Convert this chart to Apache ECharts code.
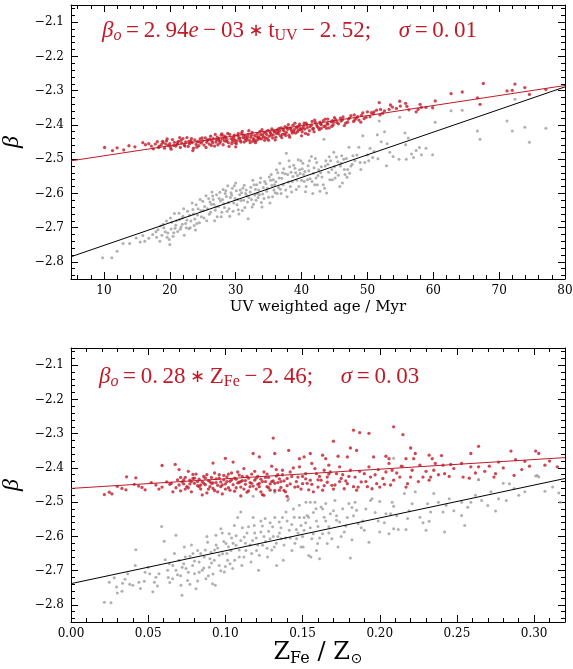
<!DOCTYPE html>
<html>
<head>
<meta charset="utf-8">
<script src="https://cdn.jsdelivr.net/npm/echarts@6/dist/echarts.min.js"></script>
<style>html,body{margin:0;padding:0;background:#fff;}#c{width:573px;height:669px;}</style>
</head>
<body>
<div id="c"></div>
<script>
// ---------------- DATA ----------------
// Top panel: beta vs UV weighted age (Myr)
const topRed = [
[10.1,-2.466],[11.3,-2.475],[12.0,-2.467],[13.0,-2.473],[13.8,-2.461],[14.7,-2.464],[15.9,-2.452],[16.3,-2.458],[16.8,-2.455],[17.2,-2.462],[17.5,-2.470],
[17.8,-2.456],[18.1,-2.449],[18.4,-2.463],[18.7,-2.458],[19.0,-2.452],[19.2,-2.468],[19.5,-2.447],[19.8,-2.460],[20.0,-2.455],[20.2,-2.471],[20.4,-2.443],[20.7,-2.451],[20.9,-2.462],[21.1,-2.457],[21.3,-2.448],[21.6,-2.466],[21.8,-2.453],[22.0,-2.440],[22.2,-2.459],[22.4,-2.450],[22.6,-2.437],[22.8,-2.463],[23.0,-2.455],[23.2,-2.446],[23.4,-2.452],[23.6,-2.468],[23.8,-2.444],[24.0,-2.457],[24.2,-2.449],[24.4,-2.461],[24.6,-2.441],[24.8,-2.453],[25.0,-2.447],
[25.2,-2.459],[25.4,-2.438],[25.6,-2.451],[25.8,-2.444],[26.0,-2.456],[26.2,-2.433],[26.4,-2.447],[26.6,-2.440],[26.8,-2.462],[27.0,-2.450],[27.2,-2.436],[27.4,-2.445],[27.6,-2.453],[27.8,-2.430],[28.0,-2.441],[28.1,-2.458],[28.3,-2.447],[28.5,-2.435],[28.7,-2.443],[28.9,-2.452],[29.1,-2.428],[29.3,-2.440],[29.5,-2.448],[29.7,-2.436],[29.9,-2.444],[30.1,-2.455],[30.3,-2.431],[30.5,-2.439],[30.7,-2.446],[30.9,-2.425],[31.1,-2.437],[31.3,-2.450],[31.5,-2.433],[31.7,-2.441],[31.9,-2.428],[32.1,-2.445],[32.3,-2.436],[32.5,-2.422],[32.7,-2.440],[32.9,-2.431],[33.1,-2.447],[33.3,-2.426],[33.5,-2.435],[33.7,-2.419],[33.9,-2.441],[34.1,-2.430],[34.3,-2.423],[34.5,-2.437],[34.7,-2.428],[34.9,-2.416],
[35.1,-2.433],[35.3,-2.424],[35.5,-2.412],[35.7,-2.429],[35.9,-2.420],[36.1,-2.436],[36.3,-2.415],[36.5,-2.426],[36.7,-2.418],[36.9,-2.409],[37.1,-2.428],[37.3,-2.417],[37.5,-2.405],[37.7,-2.422],[37.9,-2.413],[38.1,-2.430],[38.3,-2.409],[38.5,-2.418],[38.7,-2.401],[38.9,-2.414],[39.1,-2.424],[39.3,-2.406],[39.5,-2.415],[39.7,-2.398],[39.9,-2.411],[40.1,-2.420],[40.3,-2.403],[40.5,-2.412],[40.7,-2.395],[40.9,-2.408],[41.2,-2.417],[41.5,-2.401],[41.8,-2.410],[42.1,-2.393],[42.4,-2.405],[42.7,-2.414],[43.0,-2.399],[43.3,-2.388],[43.6,-2.403],[43.9,-2.396],[44.2,-2.409],[44.5,-2.391],[44.8,-2.400],
[45.2,-2.385],[45.6,-2.397],[46.0,-2.389],[46.3,-2.377],[46.7,-2.395],[47.1,-2.383],[47.5,-2.373],[47.9,-2.390],[48.3,-2.380],[48.7,-2.386],[49.3,-2.365],[49.8,-2.378],[50.4,-2.376],[50.9,-2.368],[51.4,-2.357],[51.8,-2.335],[51.9,-2.371],[52.6,-2.359],[53.3,-2.355],[53.8,-2.348],[54.4,-2.352],[54.9,-2.331],[55.0,-2.345],[55.8,-2.337],[56.3,-2.356],[57.4,-2.362],[57.7,-2.355],[58.2,-2.349],[58.9,-2.349],[59.9,-2.350],[60.3,-2.330],
[62.7,-2.309],[64.4,-2.304],[66.7,-2.321],[67.1,-2.340],[67.6,-2.279],[71.2,-2.301],[72.0,-2.299],[72.4,-2.281],[73.9,-2.291],[74.6,-2.311],[77.1,-2.297],
[26.1,-2.442],[27.3,-2.458],[28.2,-2.432],[29.4,-2.455],[30.6,-2.438],[31.6,-2.446],[32.4,-2.430],[33.6,-2.439],[34.6,-2.421],[35.6,-2.438],[36.6,-2.410],[37.6,-2.431],[38.6,-2.424],[39.6,-2.404],[40.6,-2.425],[41.6,-2.390],[42.6,-2.409],[43.6,-2.383],[44.6,-2.404],[29.0,-2.463],[31.0,-2.419],[33.0,-2.452],[36.0,-2.444],[38.0,-2.399],[40.0,-2.432],[42.0,-2.386],[21.5,-2.437],[23.5,-2.475],[19.6,-2.441],[25.5,-2.466],[27.9,-2.426],[34.0,-2.414],[37.0,-2.437],[39.0,-2.395],[41.0,-2.428],[43.0,-2.410],[45.0,-2.379],[46.5,-2.402],[48.0,-2.371],[49.0,-2.392],[50.0,-2.362],[44.0,-2.383],[32.0,-2.417],[30.0,-2.464],
[18.3,-2.466],[19.4,-2.456],[20.6,-2.460],[21.7,-2.445],[22.9,-2.448],[24.1,-2.465],[24.9,-2.438],[26.5,-2.452],[27.5,-2.440],[28.6,-2.448],[29.8,-2.430],[30.8,-2.450],[31.8,-2.436],[32.8,-2.444],[33.8,-2.428],[34.8,-2.440],[35.8,-2.418],[36.8,-2.432],[37.8,-2.408],[38.8,-2.420],[39.8,-2.414],[40.8,-2.400],[41.9,-2.420],[42.9,-2.397],[43.8,-2.410],[44.9,-2.392],[45.9,-2.380],[47.0,-2.392],[48.5,-2.376],[49.5,-2.382],[50.6,-2.364],[52.0,-2.355],[53.5,-2.342],[56.0,-2.346],[58.0,-2.340],[26.9,-2.428],[29.9,-2.452],[32.2,-2.452],[35.0,-2.445],[38.2,-2.436],
[18.9,-2.448],[20.1,-2.465],[21.2,-2.452],[22.3,-2.462],[23.3,-2.440],[24.5,-2.450],[25.7,-2.445],[26.3,-2.460],[27.1,-2.443],[27.7,-2.448],[28.4,-2.438],[28.8,-2.425],[29.6,-2.442],[30.2,-2.447],[30.4,-2.425],[31.2,-2.430],[31.4,-2.440],[32.6,-2.448],[33.2,-2.435],[33.4,-2.442],[34.2,-2.436],[34.4,-2.445],[35.2,-2.420],[35.4,-2.430],[36.2,-2.425],[36.4,-2.420],[37.2,-2.412],[37.4,-2.426],[38.4,-2.412],[39.2,-2.408],[39.4,-2.420],[40.2,-2.410],[40.4,-2.395],[41.3,-2.405],[41.7,-2.412],[42.3,-2.400],[42.8,-2.392],[43.4,-2.405],[44.0,-2.398],[44.7,-2.388],[45.4,-2.393],[46.2,-2.385],[47.3,-2.380],[48.1,-2.385],[49.1,-2.372],[51.0,-2.362],[52.3,-2.366]
];
const topGray = [
[9.8,-2.788],[11.2,-2.788],[12.0,-2.769],[12.9,-2.746],[13.9,-2.746],[14.9,-2.730],[15.5,-2.742],[15.9,-2.723],[16.2,-2.740],[16.8,-2.731],[17.4,-2.720],[17.9,-2.712],[18.2,-2.706],[18.5,-2.740],[18.8,-2.722],[19.1,-2.700],[19.5,-2.681],[19.7,-2.716],[20.0,-2.749],[20.2,-2.704],[20.5,-2.725],[20.7,-2.659],[20.9,-2.693],[21.2,-2.711],[21.5,-2.676],[21.7,-2.698],[22.0,-2.667],[22.2,-2.722],[22.4,-2.688],[22.7,-2.652],[22.9,-2.703],[23.2,-2.681],[23.5,-2.647],[23.7,-2.694],[24.0,-2.633],[24.2,-2.663],[24.5,-2.686],[24.7,-2.651],[25.0,-2.623],[25.2,-2.672],[25.5,-2.607],[25.7,-2.645],[26.0,-2.661],[26.3,-2.632],[26.6,-2.618],[26.9,-2.649],[27.1,-2.604],[27.4,-2.638],[27.7,-2.622],[28.1,-2.589],[28.3,-2.641],[28.6,-2.609],[28.9,-2.627],[29.1,-2.667],[29.3,-2.598],[29.6,-2.652],[29.9,-2.615],[30.2,-2.633],[30.6,-2.604],[30.8,-2.621],[31.1,-2.584],[31.4,-2.641],[31.7,-2.607],[31.9,-2.674],[32.2,-2.596],[32.4,-2.618],[32.7,-2.632],[33.0,-2.588],[33.2,-2.575],[33.4,-2.612],[33.6,-2.604],[33.9,-2.627],[34.2,-2.583],[34.4,-2.565],[34.7,-2.594],[35.0,-2.611],[35.2,-2.628],[35.5,-2.577],[35.7,-2.560],[36.0,-2.598],[36.2,-2.531],[36.5,-2.583],[36.7,-2.512],[37.0,-2.556],[37.2,-2.575],[37.5,-2.543],[37.7,-2.483],[38.0,-2.567],[38.2,-2.522],[38.5,-2.596],[38.7,-2.551],[39.0,-2.527],[39.2,-2.589],[39.5,-2.502],[39.7,-2.531],[40.0,-2.562],[40.3,-2.545],[40.5,-2.536],[40.7,-2.580],[41.0,-2.519],[41.3,-2.557],[41.5,-2.492],[41.8,-2.541],[42.0,-2.575],[42.3,-2.510],[42.6,-2.531],[42.8,-2.594],[43.1,-2.552],[43.4,-2.442],[43.6,-2.520],[43.8,-2.599],[44.1,-2.538],[44.4,-2.505],[44.7,-2.560],[45.0,-2.522],[45.3,-2.494],[45.6,-2.547],[46.0,-2.512],[46.2,-2.570],[46.5,-2.530],[46.8,-2.498],[47.2,-2.465],[47.3,-2.541],[47.7,-2.515],[48.1,-2.505],[48.7,-2.465],[49.3,-2.432],[49.6,-2.510],[50.0,-2.488],[50.4,-2.468],[50.8,-2.495],[51.5,-2.429],[51.6,-2.499],[51.8,-2.389],[52.1,-2.449],[52.6,-2.420],[52.9,-2.519],[53.4,-2.480],[53.9,-2.492],[54.8,-2.500],[54.9,-2.378],[55.7,-2.424],[55.8,-2.458],[55.9,-2.500],[56.7,-2.485],[57.4,-2.475],[57.9,-2.466],[58.2,-2.487],[58.9,-2.468],[59.9,-2.487],[60.3,-2.392],
[62.7,-2.359],[64.4,-2.357],[66.7,-2.418],[67.1,-2.442],[71.2,-2.389],[72.0,-2.418],[72.4,-2.325],[73.9,-2.407],[74.6,-2.451],[77.1,-2.410],
[26.4,-2.596],[27.9,-2.655],[29.5,-2.585],[30.4,-2.648],[31.2,-2.620],[32.9,-2.605],[34.0,-2.640],[35.8,-2.590],[36.9,-2.600],[38.4,-2.538],[39.9,-2.505],[40.9,-2.560],[42.2,-2.555],[43.3,-2.575],[44.0,-2.515],[45.8,-2.580],[23.9,-2.707],[21.9,-2.690],[19.9,-2.735],[28.8,-2.578],[33.8,-2.555],[37.8,-2.610],[41.7,-2.600],[44.9,-2.480],[46.9,-2.553],[39.4,-2.548],[35.4,-2.545],[31.6,-2.590],[30.0,-2.570],[26.8,-2.680],
[18.0,-2.728],[18.6,-2.695],[19.3,-2.712],[20.3,-2.684],[20.8,-2.702],[21.4,-2.658],[21.9,-2.672],[22.5,-2.700],[23.0,-2.664],[23.4,-2.628],[23.8,-2.675],[24.3,-2.645],[24.8,-2.668],[25.3,-2.638],[25.9,-2.615],[26.2,-2.655],[26.7,-2.632],[27.2,-2.668],[27.6,-2.597],[28.0,-2.618],[28.4,-2.600],[28.7,-2.652],[29.2,-2.612],[29.7,-2.628],[30.1,-2.592],[30.5,-2.660],[30.9,-2.598],[31.3,-2.576],[31.8,-2.625],[32.3,-2.582],[32.6,-2.562],[33.1,-2.620],[33.5,-2.590],[34.1,-2.602],[34.6,-2.572],[35.1,-2.552],[35.6,-2.610],[36.1,-2.566],[36.4,-2.540],[36.8,-2.588],[37.3,-2.528],[37.9,-2.545],[38.3,-2.580],[38.8,-2.518],[39.3,-2.562],[39.8,-2.542],[40.2,-2.512],[40.6,-2.595],[41.1,-2.534],[41.6,-2.565],[42.1,-2.498],[42.5,-2.548],[43.0,-2.522],[43.5,-2.585],[44.2,-2.493],[44.6,-2.530],[45.1,-2.555],[45.5,-2.508],[46.1,-2.490],[46.6,-2.545],[47.5,-2.520],[48.4,-2.488],[49.0,-2.530],[50.2,-2.505],[51.0,-2.478],[53.0,-2.455],[56.2,-2.438],[57.0,-2.495],
[19.0,-2.690],[19.6,-2.728],[20.1,-2.672],[20.6,-2.715],[21.0,-2.680],[21.6,-2.705],[22.1,-2.645],[22.6,-2.678],[23.1,-2.700],[23.6,-2.660],[24.1,-2.688],[24.6,-2.618],[25.1,-2.650],[25.6,-2.680],[26.1,-2.625],[26.5,-2.608],[27.0,-2.640],[27.5,-2.615],[27.8,-2.668],[28.2,-2.630],[28.5,-2.592],[29.0,-2.645],[29.4,-2.605],[29.8,-2.578],[30.3,-2.618],[30.7,-2.590],[31.0,-2.650],[31.5,-2.600],[32.0,-2.612],[32.5,-2.640],[32.8,-2.575],[33.3,-2.600],[33.7,-2.568],[34.3,-2.615],[34.8,-2.585],[35.3,-2.562],[35.9,-2.575],[36.3,-2.600],[36.6,-2.555],[37.1,-2.540],[37.6,-2.590],[38.1,-2.505],[38.6,-2.565],[39.1,-2.540],[39.6,-2.580],[40.1,-2.528],[40.4,-2.565],[41.2,-2.505],[41.9,-2.525],[42.4,-2.575],[42.9,-2.540],[43.7,-2.505],[44.3,-2.560],[45.2,-2.540],[45.9,-2.520],[46.4,-2.500],[47.0,-2.530],[47.8,-2.490],[48.9,-2.510]
];
// fitted lines (end points)
const topRedFit = [[5,-2.505],[80,-2.285]];
const topBlackFit = [[5,-2.785],[80,-2.289]];

// Bottom panel: beta vs Z_Fe / Z_sun
const botRed = [
[0.0216,-2.478],[0.0248,-2.471],[0.0265,-2.476],[0.030,-2.454],[0.033,-2.460],[0.0356,-2.464],[0.036,-2.426],[0.041,-2.448],[0.042,-2.429],[0.0438,-2.453],[0.046,-2.457],[0.048,-2.464],[0.052,-2.443],[0.055,-2.450],[0.057,-2.462],[0.059,-2.393],[0.059,-2.456],[0.062,-2.441],[0.064,-2.448],[0.066,-2.470],[0.0675,-2.390],[0.070,-2.405],
[0.065,-2.445],[0.068,-2.458],[0.069,-2.435],[0.071,-2.467],[0.073,-2.447],[0.076,-2.410],[0.079,-2.431],
[0.072,-2.441],[0.074,-2.428],[0.075,-2.455],[0.077,-2.436],[0.078,-2.470],[0.080,-2.445],[0.081,-2.418],[0.082,-2.452],[0.083,-2.433],[0.084,-2.462],[0.085,-2.440],[0.086,-2.425],[0.087,-2.449],[0.088,-2.473],[0.089,-2.437],[0.090,-2.455],[0.091,-2.428],[0.092,-2.386],[0.092,-2.444],[0.093,-2.466],[0.094,-2.432],[0.095,-2.451],[0.096,-2.420],[0.097,-2.441],[0.098,-2.476],[0.099,-2.435],[0.100,-2.372],[0.100,-2.447],[0.101,-2.426],[0.102,-2.458],[0.103,-2.439],[0.104,-2.415],[0.105,-2.383],[0.105,-2.449],[0.106,-2.468],[0.107,-2.433],[0.108,-2.444],[0.109,-2.421],[0.110,-2.456],[0.111,-2.437],[0.112,-2.402],[0.113,-2.448],[0.114,-2.471],[0.115,-2.430],[0.116,-2.443],[0.117,-2.418],[0.118,-2.358],[0.118,-2.453],[0.119,-2.436],[0.120,-2.462],[0.121,-2.425],[0.122,-2.368],[0.122,-2.445],[0.123,-2.433],[0.124,-2.478],[0.125,-2.412],[0.126,-2.440],[0.127,-2.455],[0.128,-2.428],[0.129,-2.447],[0.130,-2.395],[0.131,-2.313],[0.131,-2.438],[0.132,-2.358],[0.132,-2.466],[0.133,-2.424],[0.134,-2.443],[0.135,-2.432],[0.136,-2.457],[0.137,-2.420],[0.141,-2.349],
[0.085,-2.479],[0.110,-2.482],[0.125,-2.480],[0.140,-2.483],
[0.137,-2.407],[0.138,-2.466],[0.140,-2.431],[0.142,-2.412],[0.145,-2.456],[0.147,-2.427],[0.148,-2.397],[0.148,-2.373],[0.150,-2.446],[0.151,-2.368],[0.152,-2.417],[0.154,-2.464],[0.155,-2.436],[0.155,-2.358],[0.156,-2.387],[0.159,-2.417],[0.160,-2.456],[0.162,-2.436],[0.163,-2.363],[0.164,-2.407],[0.165,-2.373],[0.166,-2.427],[0.167,-2.392],[0.169,-2.451],[0.170,-2.322],[0.172,-2.417],[0.173,-2.366],[0.174,-2.397],[0.175,-2.431],[0.177,-2.461],[0.179,-2.446],[0.179,-2.368],[0.181,-2.407],[0.181,-2.342],[0.183,-2.290],[0.184,-2.427],[0.185,-2.349],[0.186,-2.456],[0.187,-2.297],[0.188,-2.441],[0.190,-2.417],[0.193,-2.397],[0.193,-2.299],[0.194,-2.427],[0.195,-2.461],[0.196,-2.368],[0.198,-2.446],[0.200,-2.456],[0.202,-2.431],[0.204,-2.412],[0.204,-2.366],[0.206,-2.387],[0.206,-2.373],[0.208,-2.407],[0.209,-2.436],[0.209,-2.280],[0.213,-2.427],[0.215,-2.303],[0.217,-2.456],[0.217,-2.373],[0.218,-2.446],[0.220,-2.427],[0.220,-2.342],[0.221,-2.407],[0.222,-2.373],[0.223,-2.358],[0.226,-2.392],[0.228,-2.427],[0.232,-2.436],[0.232,-2.363],[0.233,-2.427],[0.234,-2.373],[0.235,-2.407],[0.236,-2.387],[0.240,-2.364],[0.241,-2.392],[0.242,-2.417],[0.246,-2.390],[0.253,-2.387],[0.254,-2.427],[0.259,-2.397],[0.259,-2.358],[0.264,-2.397],[0.264,-2.337],[0.271,-2.395],[0.274,-2.427],[0.275,-2.417],[0.277,-2.383],[0.285,-2.351],[0.287,-2.422],[0.288,-2.376],[0.294,-2.381],[0.301,-2.351],[0.303,-2.358],[0.307,-2.392],[0.315,-2.397],
[0.071,-2.428],[0.074,-2.462],[0.077,-2.447],[0.079,-2.419],[0.082,-2.440],[0.084,-2.450],[0.087,-2.430],[0.089,-2.462],[0.091,-2.445],[0.093,-2.415],[0.095,-2.470],[0.097,-2.455],[0.099,-2.422],[0.101,-2.440],[0.103,-2.465],[0.106,-2.430],[0.108,-2.412],[0.110,-2.440],[0.112,-2.462],[0.114,-2.425],[0.116,-2.455],[0.119,-2.410],[0.121,-2.448],[0.123,-2.470],[0.126,-2.428],[0.128,-2.458],[0.130,-2.440],[0.133,-2.405],[0.135,-2.465],[0.138,-2.438],[0.140,-2.452],[0.143,-2.425],[0.146,-2.440],[0.149,-2.462],[0.152,-2.432],[0.156,-2.448],[0.158,-2.402],[0.161,-2.425],[0.163,-2.465],[0.166,-2.442],[0.168,-2.412],[0.171,-2.450],[0.176,-2.420],[0.178,-2.438],[0.183,-2.455],[0.187,-2.410],[0.191,-2.440],[0.197,-2.420],[0.203,-2.448],[0.211,-2.415],[0.225,-2.440],[0.238,-2.420],[0.248,-2.402],[0.258,-2.430],[0.268,-2.410],[0.280,-2.400],[0.292,-2.405],[0.310,-2.380],
[0.070,-2.450],[0.073,-2.435],[0.076,-2.458],[0.078,-2.440],[0.080,-2.430],[0.083,-2.455],[0.086,-2.445],[0.088,-2.420],[0.090,-2.440],[0.092,-2.460],[0.094,-2.443],[0.096,-2.430],[0.098,-2.450],[0.100,-2.462],[0.102,-2.418],[0.104,-2.435],[0.107,-2.458],[0.109,-2.442],[0.111,-2.425],[0.113,-2.437],[0.115,-2.467],[0.117,-2.445],[0.120,-2.430],[0.122,-2.455],[0.124,-2.440],[0.127,-2.418],[0.129,-2.465],[0.132,-2.445],[0.134,-2.420],[0.136,-2.440],[0.139,-2.470],[0.142,-2.447],[0.144,-2.400],[0.147,-2.455],[0.150,-2.425],[0.153,-2.445],[0.157,-2.470],[0.160,-2.435],[0.164,-2.452],[0.167,-2.418],[0.170,-2.462],[0.174,-2.440],[0.180,-2.425],[0.185,-2.465],[0.192,-2.455],[0.199,-2.405],[0.207,-2.450],[0.214,-2.395],[0.230,-2.410],[0.245,-2.425],[0.262,-2.415],[0.297,-2.395]
];
const botGray = [
[0.0216,-2.792],[0.0259,-2.794],[0.0248,-2.734],[0.028,-2.721],[0.0295,-2.748],[0.0334,-2.737],[0.0367,-2.709],[0.040,-2.743],[0.0416,-2.685],[0.042,-2.639],[0.044,-2.734],[0.0475,-2.731],[0.051,-2.709],[0.054,-2.734],[0.055,-2.719],[0.057,-2.709],[0.0587,-2.571],[0.0604,-2.614],[0.0626,-2.699],[0.0637,-2.680],[0.0658,-2.724],[0.068,-2.597],[0.068,-2.699],[0.070,-2.670],[0.0712,-2.743],[0.0719,-2.772],[0.0734,-2.631],[0.0745,-2.694],[0.0755,-2.729],[0.0771,-2.658],[0.0788,-2.685],[0.080,-2.709],[0.081,-2.753],[0.082,-2.641],[0.083,-2.675],[0.085,-2.699],[0.0863,-2.660],[0.0874,-2.724],[0.0885,-2.617],[0.0896,-2.690],[0.0907,-2.646],[0.0917,-2.738],[0.0928,-2.670],[0.0935,-2.743],[0.0939,-2.597],[0.095,-2.634],[0.096,-2.685],[0.0971,-2.578],[0.0982,-2.651],[0.0993,-2.704],[0.1004,-2.621],[0.1014,-2.670],[0.1025,-2.592],[0.1036,-2.641],[0.1047,-2.694],[0.1058,-2.568],[0.1069,-2.626],[0.109,-2.660],[0.110,-2.529],[0.1107,-2.685],[0.1122,-2.602],[0.1133,-2.641],[0.115,-2.572],[0.1166,-2.675],[0.1176,-2.612],[0.1187,-2.568],[0.1202,-2.641],[0.1215,-2.699],[0.123,-2.587],[0.1241,-2.626],[0.1258,-2.548],[0.1273,-2.660],[0.1289,-2.607],[0.1306,-2.572],[0.1317,-2.631],[0.1332,-2.685],[0.1349,-2.558],[0.136,-2.607],[0.1375,-2.670],[0.1393,-2.529],[0.1403,-2.495],[0.1414,-2.582],[0.1431,-2.641],[0.1446,-2.544],[0.1461,-2.607],[0.1479,-2.509],[0.149,-2.568],[0.1504,-2.631],[0.1522,-2.500],[0.1539,-2.544],[0.1554,-2.660],[0.1569,-2.592],[0.1587,-2.519],[0.1597,-2.621],
[0.149,-2.631],[0.151,-2.582],[0.153,-2.539],[0.154,-2.656],[0.155,-2.500],[0.156,-2.607],[0.158,-2.500],[0.159,-2.641],[0.160,-2.571],[0.161,-2.665],[0.162,-2.514],[0.163,-2.592],[0.164,-2.544],[0.165,-2.504],[0.166,-2.621],[0.167,-2.572],[0.168,-2.534],[0.169,-2.607],[0.171,-2.495],[0.172,-2.553],[0.173,-2.631],[0.174,-2.558],[0.176,-2.519],[0.177,-2.587],[0.180,-2.504],[0.181,-2.663],[0.182,-2.516],[0.182,-2.610],[0.185,-2.524],[0.186,-2.563],[0.188,-2.575],[0.190,-2.582],[0.193,-2.617],[0.194,-2.495],[0.195,-2.490],[0.200,-2.498],[0.200,-2.587],[0.204,-2.534],[0.206,-2.592],[0.207,-2.534],[0.209,-2.578],[0.209,-2.512],[0.212,-2.580],[0.216,-2.475],[0.217,-2.580],[0.218,-2.548],[0.223,-2.470],[0.226,-2.544],[0.230,-2.582],[0.232,-2.556],[0.233,-2.529],[0.235,-2.475],[0.241,-2.529],[0.242,-2.587],[0.243,-2.509],[0.253,-2.539],[0.253,-2.500],[0.255,-2.568],[0.259,-2.500],[0.264,-2.434],[0.266,-2.495],[0.275,-2.526],[0.277,-2.490],[0.282,-2.495],[0.284,-2.446],[0.294,-2.470],[0.302,-2.422],[0.307,-2.468],[0.312,-2.456],[0.316,-2.473],[0.317,-2.500],
[0.118,-2.483],[0.132,-2.471],[0.141,-2.490],[0.209,-2.372],[0.215,-2.395],[0.301,-2.424],[0.303,-2.427],[0.264,-2.435],[0.280,-2.445],
[0.030,-2.765],[0.035,-2.725],[0.045,-2.752],[0.050,-2.690],[0.053,-2.762],[0.061,-2.668],[0.064,-2.735],[0.067,-2.650],[0.069,-2.712],[0.072,-2.690],[0.074,-2.660],[0.076,-2.705],[0.078,-2.625],[0.080,-2.672],[0.082,-2.730],[0.084,-2.650],[0.086,-2.692],[0.088,-2.600],[0.090,-2.665],[0.092,-2.710],[0.094,-2.625],[0.096,-2.655],[0.098,-2.590],[0.100,-2.688],[0.102,-2.630],[0.104,-2.605],[0.106,-2.670],[0.108,-2.545],[0.110,-2.612],[0.112,-2.660],[0.114,-2.590],[0.116,-2.625],[0.118,-2.545],[0.120,-2.605],[0.122,-2.655],[0.124,-2.570],[0.126,-2.615],[0.128,-2.585],[0.130,-2.640],[0.132,-2.545],[0.134,-2.600],[0.136,-2.575],[0.138,-2.625],[0.140,-2.555],[0.142,-2.605],[0.144,-2.520],[0.146,-2.580],[0.148,-2.545],[0.150,-2.600],[0.152,-2.560],[0.157,-2.530],[0.161,-2.605],[0.165,-2.555],[0.170,-2.525],[0.175,-2.600],[0.179,-2.545],[0.184,-2.500],[0.189,-2.555],[0.197,-2.530],[0.203,-2.560],[0.211,-2.540],[0.221,-2.505],[0.228,-2.560],[0.238,-2.500],[0.248,-2.525],[0.262,-2.480],[0.270,-2.510],[0.290,-2.480],
[0.033,-2.760],[0.038,-2.740],[0.048,-2.705],[0.056,-2.745],[0.063,-2.720],[0.066,-2.685],[0.071,-2.715],[0.073,-2.680],[0.077,-2.740],[0.079,-2.650],[0.083,-2.705],[0.087,-2.640],[0.089,-2.715],[0.091,-2.678],[0.093,-2.640],[0.097,-2.700],[0.099,-2.615],[0.101,-2.650],[0.103,-2.680],[0.105,-2.620],[0.107,-2.598],[0.109,-2.640],[0.111,-2.575],[0.113,-2.620],[0.117,-2.650],[0.119,-2.590],[0.121,-2.625],[0.123,-2.555],[0.125,-2.600],[0.127,-2.635],[0.129,-2.560],[0.131,-2.600],[0.133,-2.620],[0.135,-2.590],[0.137,-2.545],[0.139,-2.605],[0.143,-2.565],[0.145,-2.620],[0.147,-2.590],[0.151,-2.545],[0.155,-2.575],[0.159,-2.555],[0.163,-2.520],[0.167,-2.590],[0.172,-2.540],[0.178,-2.570],[0.183,-2.540],[0.191,-2.520],[0.199,-2.555],[0.208,-2.500],[0.219,-2.525],[0.231,-2.505],[0.245,-2.490],[0.257,-2.515],[0.272,-2.470],[0.287,-2.460]
];
const botRedFit = [[0,-2.46],[0.32,-2.370]];
const botBlackFit = [[0,-2.738],[0.32,-2.431]];

// axis ranges and ticks
const topXRange = [5, 80];
const botXRange = [0, 0.32];
const yRange = [-2.85, -2.05];
const topXMajor = [10, 20, 30, 40, 50, 60, 70, 80];
const botXMajor = [0.00, 0.05, 0.10, 0.15, 0.20, 0.25, 0.30];
const yMajor = [-2.8, -2.7, -2.6, -2.5, -2.4, -2.3, -2.2, -2.1];

const topText = '{i|β}{sub|o}{r|\u2009=\u20092.\u200994}{i|e}{r|\u2009−\u200903\u2009}{a|∗}{r|\u2009t}{sub2|UV}{r|\u2009−\u20092.\u200952;\u2003\u2009}{i|σ}{r|\u2009=\u20090.\u200901}';
const botText = '{i|β}{sub|o}{r|\u2009=\u20090.\u200928\u2009}{a|∗}{r|\u2009Z}{sub2|Fe}{r|\u2009−\u20092.\u200946;\u2003\u2009}{i|σ}{r|\u2009=\u20090.\u200903}';

// ---------------- CHART ----------------
const RED = '#c01a27';
const GRAY = '#9c9c9c';
const SERIF = 'DejaVu Serif';
const MATH = 'Liberation Serif';

function minorList(lo, hi, step, majorStep) {
  const out = [];
  const n = Math.round((hi - lo) / step);
  for (let k = 0; k <= n; k++) {
    const v = +(lo + k * step).toFixed(6);
    const r = v / majorStep;
    if (Math.abs(r - Math.round(r)) > 1e-6) out.push(v);
  }
  return out;
}
const topXMinor = minorList(6, 80, 2, 10);
const botXMinor = minorList(0.01, 0.32, 0.01, 0.05);
const yMinor = minorList(-2.84, -2.06, 0.02, 0.1);

function xAxes(grid, range, major, minor, fmt, name) {
  const base = {gridIndex: grid, type: 'value', min: range[0], max: range[1], splitLine: {show: false}};
  return [
    Object.assign({}, base, {position: 'bottom',
      axisLine: {show: true, onZero: false, lineStyle: {color: '#000', width: 1}},
      axisTick: {show: true, inside: true, length: 7, customValues: major, lineStyle: {color: '#000', width: 1}},
      axisLabel: {show: true, customValues: major, formatter: fmt, margin: 6, color: '#000', fontFamily: SERIF, fontSize: 12},
      name: name.text, nameLocation: 'middle', nameGap: name.gap, nameTextStyle: name.style}),
    Object.assign({}, base, {position: 'bottom',
      axisLine: {show: false, onZero: false},
      axisTick: {show: true, inside: true, length: 4, customValues: minor, lineStyle: {color: '#000', width: 1}},
      axisLabel: {show: false}}),
    Object.assign({}, base, {position: 'top',
      axisLine: {show: true, onZero: false, lineStyle: {color: '#000', width: 1}},
      axisTick: {show: true, inside: true, length: 7, customValues: major, lineStyle: {color: '#000', width: 1}},
      axisLabel: {show: false}}),
    Object.assign({}, base, {position: 'top',
      axisLine: {show: false, onZero: false},
      axisTick: {show: true, inside: true, length: 4, customValues: minor, lineStyle: {color: '#000', width: 1}},
      axisLabel: {show: false}})
  ];
}
function yAxes(grid) {
  const base = {gridIndex: grid, type: 'value', min: yRange[0], max: yRange[1], splitLine: {show: false}};
  const fmt = v => '\u2212' + Math.abs(v).toFixed(1);
  return [
    Object.assign({}, base, {position: 'left',
      axisLine: {show: true, onZero: false, lineStyle: {color: '#000', width: 1}},
      axisTick: {show: true, inside: true, length: 7, customValues: yMajor, lineStyle: {color: '#000', width: 1}},
      axisLabel: {show: true, customValues: yMajor, formatter: fmt, margin: 7, color: '#000', fontFamily: SERIF, fontSize: 12},
      name: 'β', nameLocation: 'middle', nameGap: 42, nameRotate: 90,
      nameTextStyle: {fontFamily: MATH, fontStyle: 'italic', fontSize: 24, color: '#000'}}),
    Object.assign({}, base, {position: 'left',
      axisLine: {show: false, onZero: false},
      axisTick: {show: true, inside: true, length: 4, customValues: yMinor, lineStyle: {color: '#000', width: 1}},
      axisLabel: {show: false}}),
    Object.assign({}, base, {position: 'right',
      axisLine: {show: true, onZero: false, lineStyle: {color: '#000', width: 1}},
      axisTick: {show: true, inside: true, length: 7, customValues: yMajor, lineStyle: {color: '#000', width: 1}},
      axisLabel: {show: false}}),
    Object.assign({}, base, {position: 'right',
      axisLine: {show: false, onZero: false},
      axisTick: {show: true, inside: true, length: 4, customValues: yMinor, lineStyle: {color: '#000', width: 1}},
      axisLabel: {show: false}})
  ];
}

const richMath = (size) => ({
  i: {fontFamily: MATH, fontStyle: 'italic', fontWeight: 'normal', fontSize: size, color: RED},
  r: {fontFamily: MATH, fontWeight: 'normal', fontSize: size, color: RED},
  a: {fontFamily: 'DejaVu Sans', fontWeight: 'normal', fontSize: Math.round(size * 0.8), color: RED},
  sub: {fontFamily: MATH, fontStyle: 'italic', fontWeight: 'normal', fontSize: Math.round(size * 0.7), color: RED, padding: [10, 0, 0, 0]},
  sub2: {fontFamily: MATH, fontWeight: 'normal', fontSize: Math.round(size * 0.7), color: RED, padding: [10, 0, 0, 0]}
});

const chart = echarts.init(document.getElementById('c'), null, {renderer: 'canvas'});
const option = {
  animation: false,
  backgroundColor: '#fff',
  grid: [
    {left: 71, top: 5, width: 494, height: 274, containLabel: false, outerBoundsMode: 'none'},
    {left: 71, top: 348, width: 494, height: 274, containLabel: false, outerBoundsMode: 'none'}
  ],
  xAxis: [].concat(
    xAxes(0, topXRange, topXMajor, topXMinor, v => String(Math.round(v)),
      {text: 'UV weighted age / Myr', gap: 21, style: {fontFamily: SERIF, fontSize: 15, color: '#000'}}),
    xAxes(1, botXRange, botXMajor, botXMinor, v => v.toFixed(2),
      {text: '{z|Z}{s|Fe}{z| / Z}{o|⊙}', gap: 13, style: {rich: {
        z: {fontFamily: SERIF, fontSize: 24, color: '#000'},
        s: {fontFamily: SERIF, fontSize: 16, color: '#000', padding: [11, 0, 0, 0]},
        o: {fontFamily: 'DejaVu Sans', fontSize: 14, color: '#000', padding: [13, 0, 0, 1]}
      }}})
  ),
  yAxis: [].concat(yAxes(0), yAxes(1)),
  title: [
    {text: topText, left: 102, top: 18, padding: 0, textStyle: {fontWeight: 'normal', rich: richMath(23)}},
    {text: botText, left: 99, top: 364, padding: 0, textStyle: {fontWeight: 'normal', rich: richMath(23)}}
  ],
  series: [
    {type: 'scatter', xAxisIndex: 0, yAxisIndex: 0, data: topGray, symbolSize: 3, itemStyle: {color: GRAY}, silent: true},
    {type: 'scatter', xAxisIndex: 0, yAxisIndex: 0, data: topRed, symbolSize: 3.3, itemStyle: {color: RED}, silent: true},
    {type: 'line', xAxisIndex: 0, yAxisIndex: 0, data: topBlackFit, symbol: 'none', lineStyle: {color: '#000', width: 1}, silent: true},
    {type: 'line', xAxisIndex: 0, yAxisIndex: 0, data: topRedFit, symbol: 'none', lineStyle: {color: RED, width: 1}, silent: true},
    {type: 'scatter', xAxisIndex: 4, yAxisIndex: 4, data: botGray, symbolSize: 3, itemStyle: {color: GRAY}, silent: true},
    {type: 'scatter', xAxisIndex: 4, yAxisIndex: 4, data: botRed, symbolSize: 3.3, itemStyle: {color: RED}, silent: true},
    {type: 'line', xAxisIndex: 4, yAxisIndex: 4, data: botBlackFit, symbol: 'none', lineStyle: {color: '#000', width: 1}, silent: true},
    {type: 'line', xAxisIndex: 4, yAxisIndex: 4, data: botRedFit, symbol: 'none', lineStyle: {color: RED, width: 1}, silent: true}
  ]
};
chart.setOption(option);
</script>
</body>
</html>
